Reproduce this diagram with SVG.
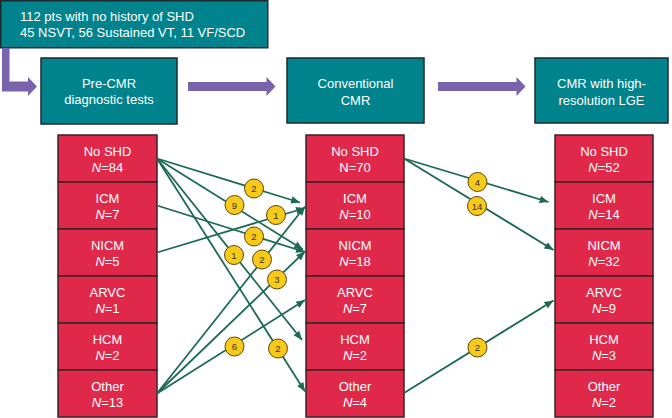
<svg xmlns="http://www.w3.org/2000/svg" width="672" height="418" viewBox="0 0 672 418">
<style>
.box{fill:#00838C;stroke:#1c2a2c;stroke-width:1.5}
.bt{font-family:"Liberation Sans",Arial,sans-serif;font-size:13px;fill:#ffffff;text-anchor:middle}
.btl{font-family:"Liberation Sans",Arial,sans-serif;font-size:13px;fill:#ffffff}
.row{fill:#E0294A;stroke:#3a2328;stroke-width:1.5}
.it{font-style:italic}
.pa{fill:#7A63AD}
.cn{fill:none;stroke:#1B6B50;stroke-width:1.8;marker-end:url(#ah)}
.bd{fill:#F7C919;stroke:#5a4810;stroke-width:1}
.bl{font-family:"Liberation Sans",Arial,sans-serif;font-size:9.5px;fill:#333333;text-anchor:middle}
</style>
<defs>
<marker id="ah" markerUnits="userSpaceOnUse" markerWidth="10" markerHeight="8" refX="9" refY="4" orient="auto">
<path d="M0,0.3 L9,4 L0,7.7 z" fill="#1B6B50"/>
</marker>
</defs>
<rect width="672" height="418" fill="#ffffff"/>

<g id="header">
<rect class="box" x="0.75" y="0.75" width="267" height="47"/>
<text class="btl" x="20" y="21">112 pts with no history of SHD</text>
<text class="btl" x="20" y="37">45 NSVT, 56 Sustained VT, 11 VF/SCD</text>
</g>

<g id="arrows">
<polygon class="pa" points="2,48 9.5,48 9.5,81.5 28,81.5 28,77 37,86.5 28,96 28,91.5 2,91.5"/>
<polygon class="pa" points="188,82 266.5,82 266.5,77 275.5,86.5 266.5,96 266.5,91 188,91"/>
<polygon class="pa" points="438,82 516.5,82 516.5,77 525.5,86.5 516.5,96 516.5,91 438,91"/>
</g>

<g id="stage-pre">
<rect class="box" x="41" y="58" width="136" height="66"/>
<text class="bt" x="109" y="87.5">Pre-CMR</text>
<text class="bt" x="109" y="103.5">diagnostic tests</text>
</g>
<g id="stage-conv">
<rect class="box" x="287" y="58" width="137" height="65"/>
<text class="bt" x="355.5" y="88">Conventional</text>
<text class="bt" x="355.5" y="104.5">CMR</text>
</g>
<g id="stage-hr">
<rect class="box" x="535" y="58" width="133" height="65"/>
<text class="bt" x="601.5" y="88">CMR with high-</text>
<text class="bt" x="601.5" y="104.5">resolution LGE</text>
</g>

<g id="col1">
<g id="c1-noshd"><rect class="row" x="58" y="135" width="99" height="47"/><text class="bt" x="107.5" y="155.5">No SHD</text><text class="bt" x="107.5" y="171.5"><tspan class="it">N</tspan>=84</text></g>
<g id="c1-icm"><rect class="row" x="58" y="182" width="99" height="47"/><text class="bt" x="107.5" y="202.5">ICM</text><text class="bt" x="107.5" y="218.5"><tspan class="it">N</tspan>=7</text></g>
<g id="c1-nicm"><rect class="row" x="58" y="229" width="99" height="47"/><text class="bt" x="107.5" y="249.5">NICM</text><text class="bt" x="107.5" y="265.5"><tspan class="it">N</tspan>=5</text></g>
<g id="c1-arvc"><rect class="row" x="58" y="276" width="99" height="47"/><text class="bt" x="107.5" y="296.5">ARVC</text><text class="bt" x="107.5" y="312.5"><tspan class="it">N</tspan>=1</text></g>
<g id="c1-hcm"><rect class="row" x="58" y="323" width="99" height="47"/><text class="bt" x="107.5" y="343.5">HCM</text><text class="bt" x="107.5" y="359.5"><tspan class="it">N</tspan>=2</text></g>
<g id="c1-other"><rect class="row" x="58" y="370" width="99" height="47"/><text class="bt" x="107.5" y="390.5">Other</text><text class="bt" x="107.5" y="406.5"><tspan class="it">N</tspan>=13</text></g>
</g>

<g id="col2">
<g id="c2-noshd"><rect class="row" x="306" y="135" width="98" height="47"/><text class="bt" x="355" y="155.5">No SHD</text><text class="bt" x="355" y="171.5">N=70</text></g>
<g id="c2-icm"><rect class="row" x="306" y="182" width="98" height="47"/><text class="bt" x="355" y="202.5">ICM</text><text class="bt" x="355" y="218.5"><tspan class="it">N</tspan>=10</text></g>
<g id="c2-nicm"><rect class="row" x="306" y="229" width="98" height="47"/><text class="bt" x="355" y="249.5">NICM</text><text class="bt" x="355" y="265.5"><tspan class="it">N</tspan>=18</text></g>
<g id="c2-arvc"><rect class="row" x="306" y="276" width="98" height="47"/><text class="bt" x="355" y="296.5">ARVC</text><text class="bt" x="355" y="312.5"><tspan class="it">N</tspan>=7</text></g>
<g id="c2-hcm"><rect class="row" x="306" y="323" width="98" height="47"/><text class="bt" x="355" y="343.5">HCM</text><text class="bt" x="355" y="359.5"><tspan class="it">N</tspan>=2</text></g>
<g id="c2-other"><rect class="row" x="306" y="370" width="98" height="47"/><text class="bt" x="355" y="390.5">Other</text><text class="bt" x="355" y="406.5"><tspan class="it">N</tspan>=4</text></g>
</g>

<g id="col3">
<g id="c3-noshd"><rect class="row" x="555" y="135" width="98" height="47"/><text class="bt" x="604" y="155.5">No SHD</text><text class="bt" x="604" y="171.5"><tspan class="it">N</tspan>=52</text></g>
<g id="c3-icm"><rect class="row" x="555" y="182" width="98" height="47"/><text class="bt" x="604" y="202.5">ICM</text><text class="bt" x="604" y="218.5"><tspan class="it">N</tspan>=14</text></g>
<g id="c3-nicm"><rect class="row" x="555" y="229" width="98" height="47"/><text class="bt" x="604" y="249.5">NICM</text><text class="bt" x="604" y="265.5"><tspan class="it">N</tspan>=32</text></g>
<g id="c3-arvc"><rect class="row" x="555" y="276" width="98" height="47"/><text class="bt" x="604" y="296.5">ARVC</text><text class="bt" x="604" y="312.5"><tspan class="it">N</tspan>=9</text></g>
<g id="c3-hcm"><rect class="row" x="555" y="323" width="98" height="47"/><text class="bt" x="604" y="343.5">HCM</text><text class="bt" x="604" y="359.5"><tspan class="it">N</tspan>=3</text></g>
<g id="c3-other"><rect class="row" x="555" y="370" width="98" height="47"/><text class="bt" x="604" y="390.5">Other</text><text class="bt" x="604" y="406.5"><tspan class="it">N</tspan>=2</text></g>
</g>

<g id="connectors">
<line class="cn" x1="157" y1="158.5" x2="300" y2="202.5"/>
<line class="cn" x1="157" y1="158.5" x2="303" y2="249.5"/>
<line class="cn" x1="157" y1="158.5" x2="302" y2="340"/>
<line class="cn" x1="157" y1="158.5" x2="305" y2="391.5"/>
<line class="cn" x1="157" y1="205.5" x2="305" y2="252"/>
<line class="cn" x1="157" y1="252.5" x2="305" y2="208"/>
<line class="cn" x1="157" y1="393.5" x2="305" y2="206.5"/>
<line class="cn" x1="157" y1="393.5" x2="305" y2="251.5"/>
<line class="cn" x1="157" y1="393.5" x2="305" y2="300"/>
<line class="cn" x1="404" y1="158.5" x2="548.5" y2="202"/>
<line class="cn" x1="404" y1="158.5" x2="553.5" y2="250"/>
<line class="cn" x1="404" y1="393" x2="553.5" y2="300.5"/>
</g>

<g id="badges">
<circle class="bd" cx="254" cy="188.5" r="9.5"/><text class="bl" x="254" y="192">2</text>
<circle class="bd" cx="234.5" cy="205" r="9.5"/><text class="bl" x="234.5" y="208.5">9</text>
<circle class="bd" cx="276" cy="215" r="9.5"/><text class="bl" x="276" y="218.5">1</text>
<circle class="bd" cx="254" cy="236.5" r="9.5"/><text class="bl" x="254" y="240">2</text>
<circle class="bd" cx="234" cy="255" r="9.5"/><text class="bl" x="234" y="258.5">1</text>
<circle class="bd" cx="262" cy="259.5" r="9.5"/><text class="bl" x="262" y="263">2</text>
<circle class="bd" cx="277" cy="279.5" r="9.5"/><text class="bl" x="277" y="283">3</text>
<circle class="bd" cx="234.5" cy="346.5" r="9.5"/><text class="bl" x="234.5" y="350">6</text>
<circle class="bd" cx="278" cy="348.5" r="9.5"/><text class="bl" x="278" y="352">2</text>
<circle class="bd" cx="477.5" cy="182" r="9.5"/><text class="bl" x="477.5" y="185.5">4</text>
<circle class="bd" cx="477" cy="206" r="9.5"/><text class="bl" x="477" y="209.5">14</text>
<circle class="bd" cx="477.5" cy="347.5" r="9.5"/><text class="bl" x="477.5" y="351">2</text>
</g>
</svg>
